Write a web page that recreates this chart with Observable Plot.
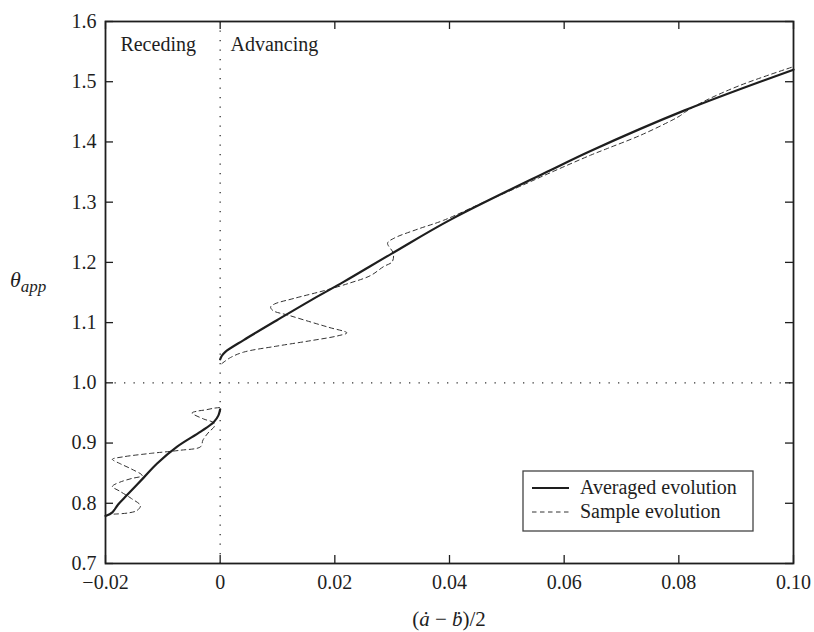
<!DOCTYPE html>
<html>
<head>
<meta charset="utf-8">
<script src="https://cdn.jsdelivr.net/npm/d3@7"></script>
<script src="https://cdn.jsdelivr.net/npm/@observablehq/plot@0.6"></script>
<style>
  html, body { margin: 0; padding: 0; background: #fff; }
  #chart { position: relative; width: 814px; height: 632px; }
</style>
</head>
<body>
<div id="chart"></div>
<script>
// ---- data ----
const xTicks = [-0.02, 0, 0.02, 0.04, 0.06, 0.08, 0.10];
const yTicks = [0.7, 0.8, 0.9, 1.0, 1.1, 1.2, 1.3, 1.4, 1.5, 1.6];

// Averaged evolution, receding branch
const avgRecX = [-0.02, -0.0188, -0.0178, -0.0162, -0.0133, -0.011, -0.0075, -0.0034, -0.0011, -0.0003, 0];
const avgRecY = [0.779, 0.785, 0.798, 0.814, 0.843, 0.866, 0.894, 0.919, 0.935, 0.946, 0.956];

// Averaged evolution, advancing branch
const avgAdvX = [0, 0.0003, 0.0009, 0.0041, 0.0099, 0.0158, 0.0216, 0.030, 0.0402, 0.0576, 0.0646, 0.0809, 0.10];
const avgAdvY = [1.039, 1.045, 1.0515, 1.071, 1.104, 1.137, 1.168, 1.215, 1.271, 1.353, 1.385, 1.452, 1.520];

// Sample evolution, receding branch
const smpRecX = [-0.0185, -0.016, -0.0145, -0.0139, -0.0155, -0.0175, -0.0188, -0.0175, -0.0155, -0.0136,
                 -0.0155, -0.0175, -0.0188, -0.017, -0.012, -0.007, -0.0034, -0.003, -0.002, -0.001,
                 -0.0012, -0.0029, -0.0049, -0.004, -0.0026, -0.001, 0];
const smpRecY = [0.782, 0.784, 0.788, 0.796, 0.808, 0.820, 0.828, 0.835, 0.841, 0.846,
                 0.857, 0.866, 0.873, 0.877, 0.883, 0.888, 0.894, 0.905, 0.918, 0.928,
                 0.934, 0.940, 0.950, 0.953, 0.955, 0.958, 0.959];

// Sample evolution, advancing branch
const smpAdvX = [0.0003, 0.0018, 0.0041, 0.0099, 0.0158, 0.0205, 0.0221, 0.019, 0.0158, 0.012,
                 0.0092, 0.0088, 0.0095, 0.0128, 0.0181, 0.0227, 0.0262, 0.0285, 0.030, 0.0302,
                 0.0292, 0.0303, 0.0344, 0.039, 0.046, 0.052, 0.0576, 0.0646, 0.0675, 0.0733,
                 0.079, 0.0803, 0.081, 0.0843, 0.0907, 0.10];
const smpAdvY = [1.032, 1.042, 1.051, 1.061, 1.070, 1.078, 1.083, 1.092, 1.101, 1.112,
                 1.120, 1.126, 1.131, 1.140, 1.153, 1.166, 1.178, 1.193, 1.201, 1.215,
                 1.232, 1.240, 1.255, 1.270, 1.300, 1.325, 1.349, 1.378, 1.389, 1.411,
                 1.437, 1.444, 1.449, 1.467, 1.494, 1.525];

const regionLabels = ["Receding", "Advancing"];
const regionX = [-0.0174, 0.0018];
const regionY = [1.561, 1.561];

const legendLabels = ["Averaged evolution", "Sample evolution"];

// ---- build tables ----
const toPts = (xs, ys) => xs.map((x, i) => ({x, y: ys[i]}));
const avgRec = toPts(avgRecX, avgRecY);
const avgAdv = toPts(avgAdvX, avgAdvY);
const smpRec = toPts(smpRecX, smpRecY);
const smpAdv = toPts(smpAdvX, smpAdvY);
const regions = regionLabels.map((t, i) => ({t, x: regionX[i], y: regionY[i]}));

const W = 814, H = 632, mL = 105, mR = 21, mT = 21, mB = 69;
const innerW = W - mL - mR, innerH = H - mT - mB;
const tickLen = 8;
const ink = "#1e1e1e";
const serif = "Liberation Serif, DejaVu Serif, serif";

const xFmt = d => d === 0 ? "0" : d3.format(".2f")(d).replace("-", "\u2212");

const plot = Plot.plot({
  width: W, height: H,
  marginLeft: mL, marginRight: mR, marginTop: mT, marginBottom: mB,
  x: {domain: [-0.02, 0.10]},
  y: {domain: [0.7, 1.6]},
  style: {fontFamily: serif, fontSize: "20px", color: ink, background: "#fff"},
  marks: [
    // dotted reference lines
    Plot.ruleX([0], {stroke: "#333", strokeWidth: 1.3, strokeDasharray: "1.3,8.2"}),
    Plot.ruleY([1.0], {stroke: "#333", strokeWidth: 1.3, strokeDasharray: "1.3,8.2"}),
    // sample evolution (dashed)
    Plot.line(smpRec, {x: "x", y: "y", stroke: "#333", strokeWidth: 1, strokeDasharray: "4.5,3.5", curve: "catmull-rom"}),
    Plot.line(smpAdv, {x: "x", y: "y", stroke: "#333", strokeWidth: 1, strokeDasharray: "4.5,3.5", curve: "catmull-rom"}),
    // averaged evolution (solid)
    Plot.line(avgRec, {x: "x", y: "y", stroke: ink, strokeWidth: 2.2, curve: "catmull-rom"}),
    Plot.line(avgAdv, {x: "x", y: "y", stroke: ink, strokeWidth: 2.2, curve: "catmull-rom"}),
    // region labels
    Plot.text(regions, {x: "x", y: "y", text: "t", textAnchor: "start", fill: ink, fontSize: 20, fontFamily: serif}),
    // inward ticks
    Plot.ruleX(xTicks, {x: d => d, insetTop: innerH - tickLen, stroke: ink, strokeWidth: 1.3}),
    Plot.ruleX(xTicks, {x: d => d, insetBottom: innerH - tickLen, stroke: ink, strokeWidth: 1.3}),
    Plot.ruleY(yTicks, {y: d => d, insetRight: innerW - tickLen, stroke: ink, strokeWidth: 1.3}),
    Plot.ruleY(yTicks, {y: d => d, insetLeft: innerW - tickLen, stroke: ink, strokeWidth: 1.3}),
    // axes (labels only)
    Plot.axisX(xTicks, {anchor: "bottom", tickSize: 0, tickPadding: 11, tickFormat: xFmt, label: null, fontSize: 20, fontFamily: serif}),
    Plot.axisY(yTicks, {anchor: "left", tickSize: 0, tickPadding: 9, tickFormat: d3.format(".1f"), label: null, fontSize: 20, fontFamily: serif}),
    Plot.frame({stroke: ink, strokeWidth: 1.8})
  ]
});

document.getElementById("chart").appendChild(plot);

// ---- axis titles and legend (SVG text) ----
const svg = d3.select(plot);

// x-axis title: (ȧ − ḃ)/2
const xt = svg.append("text")
  .attr("x", mL + innerW / 2).attr("y", 626)
  .attr("text-anchor", "middle")
  .attr("font-family", serif).attr("font-size", 21).attr("fill", ink);
xt.append("tspan").text("(");
xt.append("tspan").attr("font-style", "italic").text("\u0227");
xt.append("tspan").text(" \u2212 ");
xt.append("tspan").attr("font-style", "italic").text("\u1E03");
xt.append("tspan").text(")/2");

// y-axis title: θ_app
const yt = svg.append("text")
  .attr("x", 10).attr("y", 287)
  .attr("text-anchor", "start")
  .attr("font-family", serif).attr("font-size", 22).attr("fill", ink)
  .attr("font-style", "italic");
yt.append("tspan").text("\u03B8");
yt.append("tspan").attr("font-size", 17).attr("dy", 5).text("app");

// legend
const lg = svg.append("g").attr("transform", "translate(523,471)");
lg.append("rect").attr("width", 230).attr("height", 60)
  .attr("fill", "#fff").attr("stroke", "#444").attr("stroke-width", 1.3);
legendLabels.forEach((t, i) => {
  const cy = 17 + i * 24;
  lg.append("line").attr("x1", 9).attr("x2", 46).attr("y1", cy).attr("y2", cy)
    .attr("stroke", i === 0 ? ink : "#333")
    .attr("stroke-width", i === 0 ? 2.2 : 1)
    .attr("stroke-dasharray", i === 0 ? null : "4.5,3.5");
  lg.append("text").attr("x", 57).attr("y", cy + 6)
    .attr("text-anchor", "start")
    .attr("font-family", serif).attr("font-size", 20).attr("fill", ink)
    .text(t);
});
</script>
</body>
</html>
